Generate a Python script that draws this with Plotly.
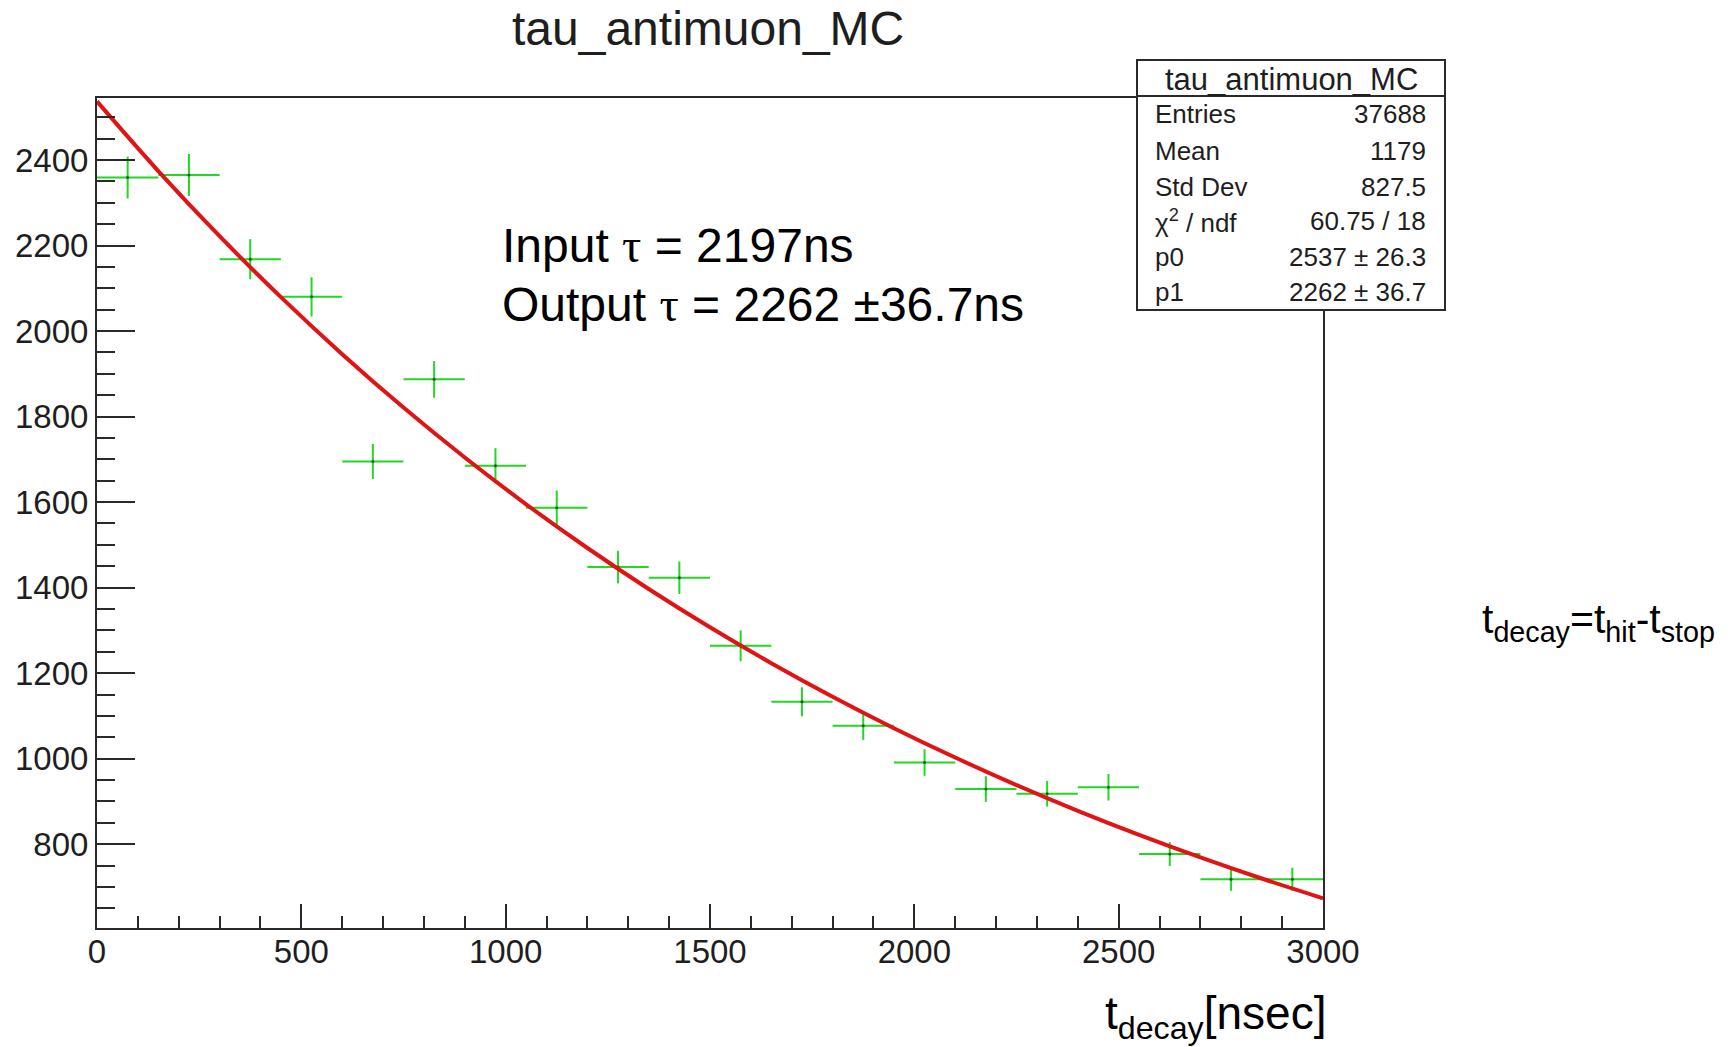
import plotly.graph_objects as go

# ---- data ----
bin_centers = [75, 225, 375, 525, 675, 825, 975, 1125, 1275, 1425,
               1575, 1725, 1875, 2025, 2175, 2325, 2475, 2625, 2775, 2925]
bin_half_width = [75, 75, 75, 75, 75, 75, 75, 75, 75, 75,
                  75, 75, 75, 75, 75, 75, 75, 75, 75, 75]
counts = [2359, 2365, 2168, 2080, 1695, 1887, 1685, 1587, 1448, 1423,
          1264, 1133, 1077, 991, 929, 918, 933, 777, 718, 718]
count_err = [49, 49, 47, 46, 41, 43, 41, 40, 38, 38,
             36, 34, 33, 31, 30, 30, 31, 28, 27, 27]

fit_x = [0, 150, 300, 450, 600, 750, 900, 1050, 1200, 1350, 1500,
         1650, 1800, 1950, 2100, 2250, 2400, 2550, 2700, 2850, 3000]
fit_y = [2537, 2374.2, 2221.9, 2079.3, 1945.9, 1821.0, 1704.2, 1594.9,
         1492.6, 1396.8, 1307.2, 1223.3, 1144.8, 1071.3, 1002.6, 938.3,
         878.1, 821.8, 769.1, 719.7, 673.5]

x_ticks = [0, 500, 1000, 1500, 2000, 2500, 3000]
y_ticks = [800, 1000, 1200, 1400, 1600, 1800, 2000, 2200, 2400]

stats_labels = ["Entries", "Mean", "Std Dev", "χ<sup>2</sup> / ndf", "p0", "p1"]
stats_values = ["37688", "1179", "827.5", "60.75 / 18", "2537 ± 26.3", "2262 ± 36.7"]
hist_name = "tau_antimuon_MC"

# ---- geometry (pixels) ----
W, H = 1735, 1047
L, R, T, B = 97, 1323, 98, 928
PW, PH = R - L, B - T


def px(x):
    return (x - L) / PW


def py(y):
    return (B - y) / PH


FONT = "Liberation Sans"
GREEN = "#22d822"
RED = "#e01414"
TXT = "#1e1e1e"

fig = go.Figure()

fig.add_trace(go.Scatter(
    x=bin_centers, y=counts, mode="markers",
    marker=dict(size=3, color="#1d5a1d"),
    error_x=dict(type="data", array=bin_half_width, color=GREEN, thickness=2, width=0),
    error_y=dict(type="data", array=count_err, color=GREEN, thickness=2, width=0),
    showlegend=False, hoverinfo="x+y",
))

fig.add_trace(go.Scatter(
    x=fit_x, y=fit_y, mode="lines",
    line=dict(color=RED, width=4, shape="spline"),
    showlegend=False,
))

axis_common = dict(
    showgrid=False, zeroline=False, showline=True, linecolor="#2a2a2a",
    linewidth=2, mirror=True, ticks="inside", tickcolor="#2a2a2a",
    tickwidth=2, tickfont=dict(family=FONT, size=33, color=TXT),
)

fig.update_layout(
    width=W, height=H,
    margin=dict(l=L, r=W - R, t=T, b=H - B, autoexpand=False),
    paper_bgcolor="white", plot_bgcolor="white",
    xaxis=dict(range=[0, 3000], tickvals=x_ticks, ticklen=24,
               ticklabelstandoff=-7,
               minor=dict(dtick=100, ticklen=12, ticks="inside",
                          tickcolor="#2a2a2a", tickwidth=2),
               **axis_common),
    yaxis=dict(range=[604, 2545], tickvals=y_ticks, ticklen=38,
               minor=dict(dtick=50, ticklen=18, ticks="inside",
                          tickcolor="#2a2a2a", tickwidth=2),
               **axis_common),
)

shapes = []
# stats box
bx0, bx1, by0, by1 = 1137, 1445, 60, 310
shapes.append(dict(type="rect", xref="paper", yref="paper",
                   x0=px(bx0), x1=px(bx1), y0=py(by1), y1=py(by0),
                   fillcolor="white", line=dict(color="#2a2a2a", width=2),
                   layer="above"))
shapes.append(dict(type="line", xref="paper", yref="paper",
                   x0=px(bx0), x1=px(bx1), y0=py(96), y1=py(96),
                   line=dict(color="#2a2a2a", width=2), layer="above"))
fig.update_layout(shapes=shapes)

ann = []
ann.append(dict(text=hist_name, x=px(708), y=py(28), xref="paper", yref="paper",
                xanchor="center", yanchor="middle", showarrow=False,
                font=dict(family=FONT, size=48, color=TXT)))
ann.append(dict(text=hist_name, x=px(1291), y=py(79), xref="paper", yref="paper",
                xanchor="center", yanchor="middle", showarrow=False,
                font=dict(family=FONT, size=31, color=TXT)))
row_y = [114, 151, 187, 221, 257, 292]
for lab, val, yy in zip(stats_labels, stats_values, row_y):
    ann.append(dict(text=lab, x=px(1153), y=py(yy), xref="paper", yref="paper",
                    xanchor="left", yanchor="middle", showarrow=False,
                    font=dict(family=FONT, size=26, color=TXT)))
    ann.append(dict(text=val, x=px(1428), y=py(yy), xref="paper", yref="paper",
                    xanchor="right", yanchor="middle", showarrow=False,
                    font=dict(family=FONT, size=26, color=TXT)))

tau = '<span style="font-family:Liberation Serif">τ</span>'
ann.append(dict(text=f"Input {tau} = 2197ns", x=px(500), y=py(246),
                xref="paper", yref="paper", xanchor="left", yanchor="middle",
                showarrow=False, font=dict(family=FONT, size=48, color="black")))
ann.append(dict(text=f"Output {tau} = 2262 ±36.7ns", x=px(500), y=py(304),
                xref="paper", yref="paper", xanchor="left", yanchor="middle",
                showarrow=False, font=dict(family=FONT, size=48, color="black")))

ann.append(dict(text="t<sub>decay</sub>[nsec]", x=px(1328), y=py(1016),
                xref="paper", yref="paper", xanchor="right", yanchor="middle",
                showarrow=False, font=dict(family=FONT, size=46, color="black")))
ann.append(dict(text="t<sub>decay</sub>=t<sub>hit</sub>-t<sub>stop</sub>",
                x=px(1480), y=py(622), xref="paper", yref="paper",
                xanchor="left", yanchor="middle", showarrow=False,
                font=dict(family=FONT, size=41, color="black")))
fig.update_layout(annotations=ann)

fig.write_html("out.html")
